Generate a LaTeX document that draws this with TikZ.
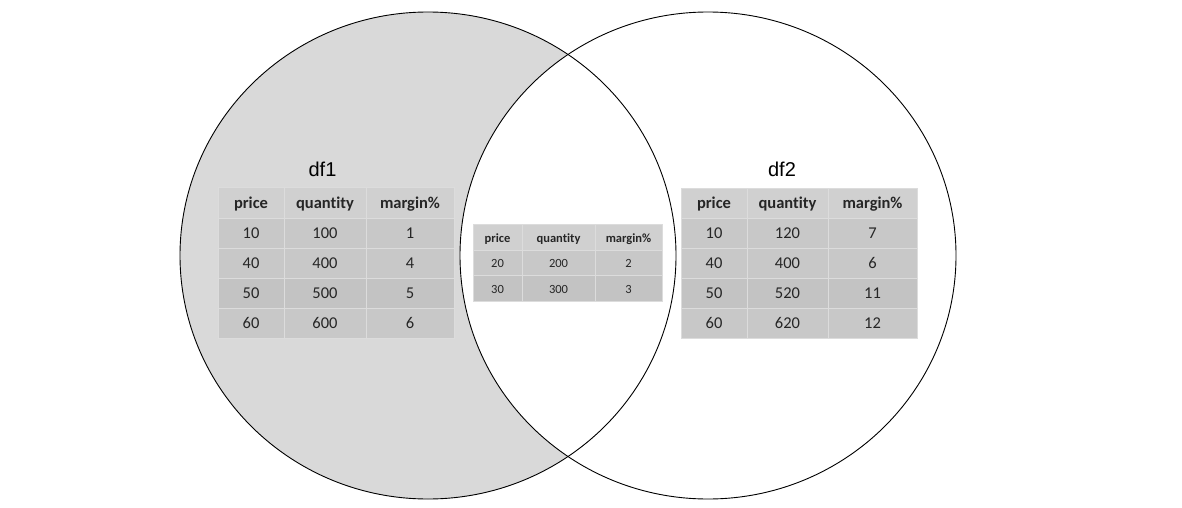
\documentclass[tikz,border=0pt]{standalone}
\usepackage{fontspec}
\setmainfont{Carlito}[Ligatures={NoCommon,NoContextual}]
\newfontfamily\labfont{Liberation Sans}
\definecolor{vennfill}{HTML}{D9D9D9}
\definecolor{hdrfill}{HTML}{D0D0D0}
\definecolor{rowfill}{HTML}{C8C8C8}
\definecolor{rowfillb}{HTML}{C3C3C3}
\definecolor{cellline}{HTML}{DCDCDC}
\newcommand\cdown[1]{\raisebox{-0.17em}{#1}}
\newcommand\trow[8]{%
  \node[cell,#5,minimum width={(\xb-\xa)*1pt},minimum height={(#4-#3)*1pt}] (#1#2a) at ({(\xa+\xb)/2},{(#3+#4)/2}) {\cdown{#6}};
  \node[cell,#5,minimum width={(\xc-\xb)*1pt},minimum height={(#4-#3)*1pt}] (#1#2b) at ({(\xb+\xc)/2},{(#3+#4)/2}) {\cdown{#7}};
  \node[cell,#5,minimum width={(\xd-\xc)*1pt},minimum height={(#4-#3)*1pt}] (#1#2c) at ({(\xc+\xd)/2},{(#3+#4)/2}) {\cdown{#8}};
}
\begin{document}
\begin{tikzpicture}[x=1pt,y=-1pt,
  cell/.style={draw=cellline,line width=0.7pt,inner sep=0pt,text=black!85,text height=0.63em,text depth=0pt},
  big/.style={font=\fontsize{16.5}{19}\selectfont},
  small/.style={font=\fontsize{12.5}{15}\selectfont},
  hdr/.style={fill=hdrfill},
  hdrbig/.style={hdr,font=\fontsize{16.5}{19}\selectfont\bfseries},
  hdrsmall/.style={hdr,font=\fontsize{12.5}{15}\selectfont\bfseries},
  rowa/.style={fill=rowfill},
  rowb/.style={fill=rowfillb},
  setlabel/.style={font=\labfont\fontsize{20}{24}\selectfont,inner sep=0pt},
  ring/.style={draw=black,line width=0.9pt}]
\useasboundingbox (0,0) rectangle (1182,508);
% Venn regions
\fill[vennfill] (428,255.5) ellipse [x radius=248,y radius=243.5];
\begin{scope}
  \clip (708,255.5) ellipse [x radius=248,y radius=243.5];
  \fill[white] (428,255.5) ellipse [x radius=248,y radius=243.5];
\end{scope}
\draw[ring] (428,255.5) ellipse [x radius=248,y radius=243.5];
\draw[ring] (708,255.5) ellipse [x radius=248,y radius=243.5];
% labels
\node[setlabel] (df1) at (322.5,169) {df1};
\node[setlabel] (df2) at (782,169) {df2};
% table df1
\def\xa{218}\def\xb{284}\def\xc{366}\def\xd{454}
\trow{t1r}{0}{187}{218}{hdrbig}{price}{quantity}{margin\%}
\trow{t1r}{1}{218}{248}{rowa,big}{10}{100}{1}
\trow{t1r}{2}{248}{278}{rowa,big}{40}{400}{4}
\trow{t1r}{3}{278}{308}{rowb,big}{50}{500}{5}
\trow{t1r}{4}{308}{338}{rowa,big}{60}{600}{6}
% table df2
\def\xa{681}\def\xb{747}\def\xc{828}\def\xd{917}
\trow{t2r}{0}{188}{218}{hdrbig}{price}{quantity}{margin\%}
\trow{t2r}{1}{218}{248}{rowa,big}{10}{120}{7}
\trow{t2r}{2}{248}{278}{rowa,big}{40}{400}{6}
\trow{t2r}{3}{278}{308}{rowb,big}{50}{520}{11}
\trow{t2r}{4}{308}{338}{rowa,big}{60}{620}{12}
% table intersection
\def\xa{473}\def\xb{522}\def\xc{595}\def\xd{662}
\trow{t3r}{0}{224}{250}{hdrsmall}{price}{quantity}{margin\%}
\trow{t3r}{1}{250}{275}{rowa,small}{20}{200}{2}
\trow{t3r}{2}{275}{301}{rowb,small}{30}{300}{3}
\end{tikzpicture}
\end{document}
